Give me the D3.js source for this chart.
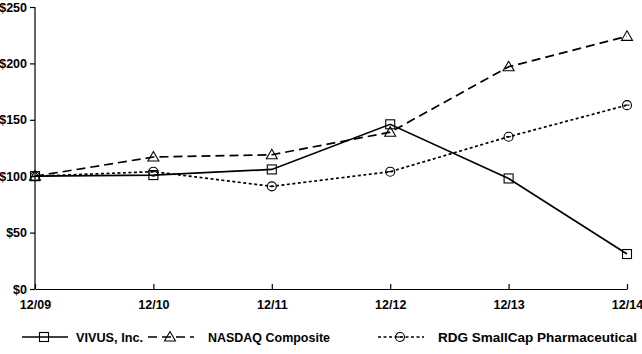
<!DOCTYPE html>
<html>
<head>
<meta charset="utf-8">
<script src="https://cdn.jsdelivr.net/npm/d3@7"></script>
<style>
  body { margin: 0; background: #fff; }
  svg { display: block; font-family: "Liberation Sans", Arial, sans-serif; font-weight: bold; }
</style>
</head>
<body>
<div id="graphicContainer"></div>
<script>
const periods = ['12/09', '12/10', '12/11', '12/12', '12/13', '12/14'];
const vivus = [100, 101, 106, 146, 98, 31];
const nasdaq = [100, 117, 119, 139, 197, 224];
const rdg = [100, 104, 91, 104, 135, 163];
const yTicks = [0, 50, 100, 150, 200, 250];

const seriesList = [
  { name: 'VIVUS, Inc.', values: vivus, dash: null, marker: 'square' },
  { name: 'NASDAQ Composite', values: nasdaq, dash: '9 5', marker: 'triangle' },
  { name: 'RDG SmallCap Pharmaceutical', values: rdg, dash: '3 2.5', marker: 'circle' },
];

const Width = 642, Height = 354;
const Margin = { t: 7, r: 15, b: 65, l: 35 };

const svg = d3.select('#graphicContainer').append('svg')
  .attr('width', Width)
  .attr('height', Height);

const x = d3.scalePoint().domain(periods).range([Margin.l, Width - Margin.r]);
const y = d3.scaleLinear().domain([0, 250]).range([Height - Margin.b, Margin.t]);

// y axis
const yAxis = svg.append('g')
  .attr('transform', `translate(${Margin.l},0)`)
  .call(d3.axisLeft(y).tickValues(yTicks).tickSize(5).tickPadding(3).tickFormat(d => '$' + d));
yAxis.selectAll('path,line').attr('stroke', '#000').attr('stroke-width', 1.2);
yAxis.select('.domain').attr('d', `M0,${y(250)}V${y(0)}`);
yAxis.selectAll('text').attr('font-size', 12.5).attr('font-family', 'Liberation Sans, Arial').attr('font-weight', 'bold').attr('fill', '#000');

// x axis, ticks pointing up
const xAxis = svg.append('g')
  .attr('transform', `translate(0,${y(0)})`)
  .call(d3.axisBottom(x).tickSize(-5).tickSizeOuter(0).tickPadding(11));
xAxis.selectAll('path,line').attr('stroke', '#000').attr('stroke-width', 1.2);
xAxis.selectAll('text').attr('font-size', 12.5).attr('font-family', 'Liberation Sans, Arial').attr('font-weight', 'bold').attr('fill', '#000').attr('dy', '0.71em');

const line = d3.line().x((d, i) => x(periods[i])).y(d => y(d));

function drawMarker(g, type, cx, cy) {
  if (type === 'square') {
    g.append('rect').attr('x', cx - 4.5).attr('y', cy - 4.5).attr('width', 9).attr('height', 9)
      .attr('fill', 'none').attr('stroke', '#000').attr('stroke-width', 1.1);
  } else if (type === 'triangle') {
    g.append('path').attr('d', `M${cx},${cy - 5.5}L${cx + 5.5},${cy + 4}L${cx - 5.5},${cy + 4}Z`)
      .attr('fill', 'none').attr('stroke', '#000').attr('stroke-width', 1.1);
  } else {
    g.append('circle').attr('cx', cx).attr('cy', cy).attr('r', 4.5)
      .attr('fill', 'none').attr('stroke', '#000').attr('stroke-width', 1.1);
    g.append('line').attr('x1', cx - 2.5).attr('x2', cx + 2.5).attr('y1', cy).attr('y2', cy)
      .attr('stroke', '#000').attr('stroke-width', 1.1);
  }
}

seriesList.forEach(s => {
  const g = svg.append('g').attr('class', 'series');
  g.append('path')
    .datum(s.values)
    .attr('d', line)
    .attr('fill', 'none')
    .attr('stroke', '#000')
    .attr('stroke-width', 1.7)
    .attr('stroke-dasharray', s.dash);
  s.values.forEach((v, i) => drawMarker(g, s.marker, x(periods[i]), y(v)));
});

// legend (reference font is condensed, so widths are fitted)
const legendLineX = [22, 148, 378];
const legendTextX = [76, 208, 438];
const legendTextW = [67, 122, 199];
const legendY = 337;
seriesList.forEach((s, i) => {
  const g = svg.append('g').attr('transform', `translate(${legendLineX[i]},${legendY})`);
  g.append('line').attr('x1', 0).attr('x2', 46).attr('y1', 0).attr('y2', 0)
    .attr('stroke', '#000').attr('stroke-width', 1.7).attr('stroke-dasharray', s.dash);
  drawMarker(g, s.marker, 22, 0);
  svg.append('text').attr('x', legendTextX[i]).attr('y', legendY).attr('dy', '0.35em')
    .attr('font-size', 13.5).attr('fill', '#000')
    .attr('textLength', legendTextW[i]).attr('lengthAdjust', 'spacingAndGlyphs')
    .text(s.name);
});
</script>
</body>
</html>
